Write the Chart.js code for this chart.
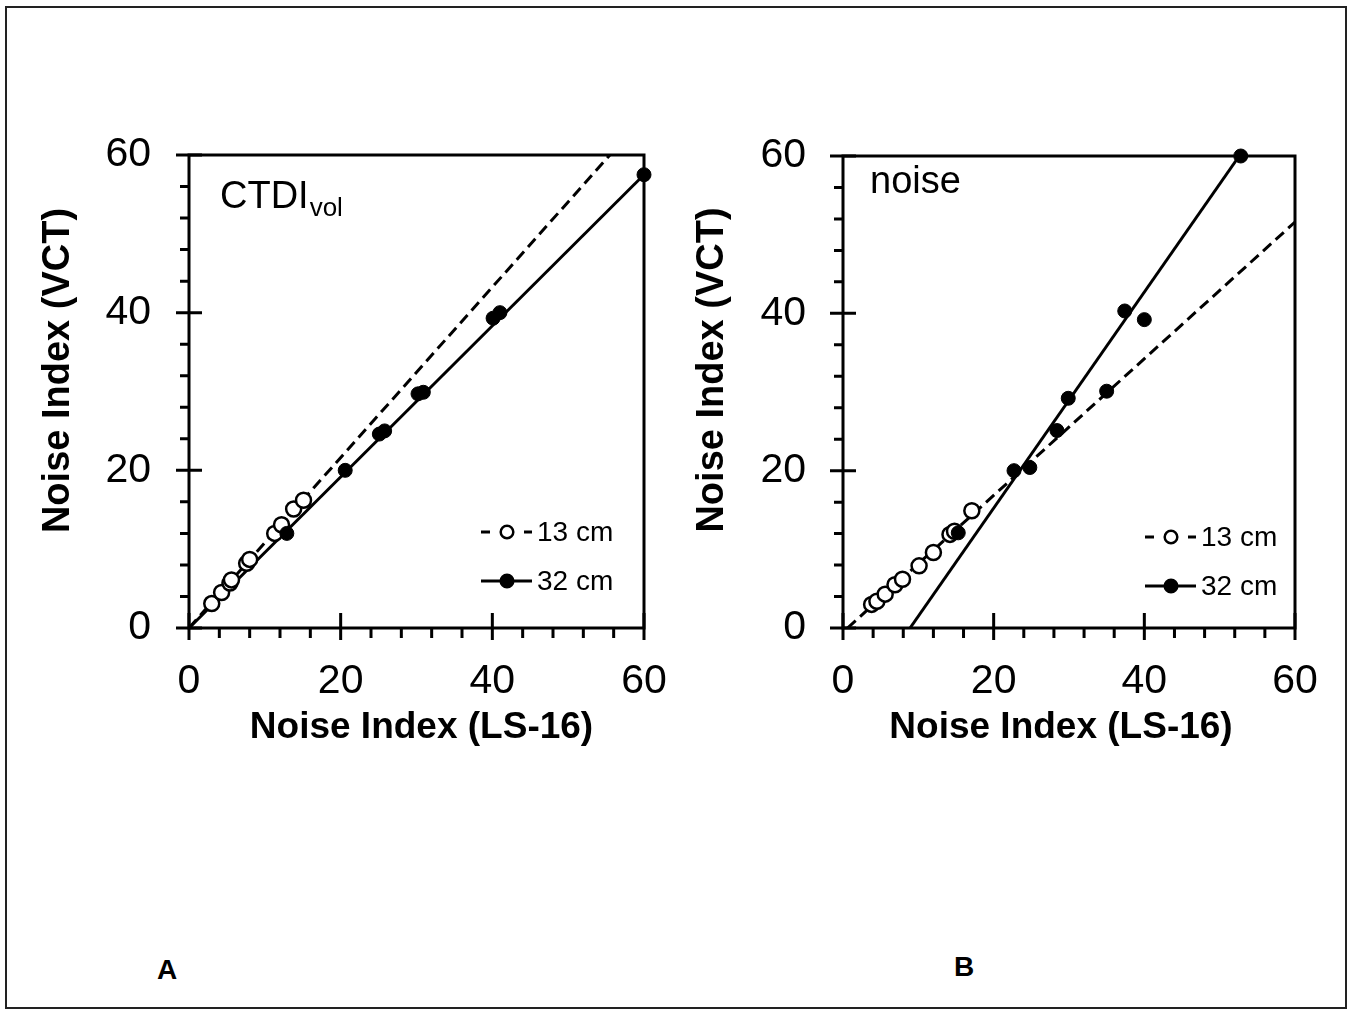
<!DOCTYPE html>
<html>
<head>
<meta charset="utf-8">
<title>Noise Index VCT vs LS-16</title>
<script src="https://cdn.jsdelivr.net/npm/chart.js@4.4.0/dist/chart.umd.min.js"></script>
<style>
  body { margin: 0; background: #fff; }
  #frame { position: absolute; left: 5px; top: 6px; width: 1342px; height: 1003px; border: 2px solid #222; box-sizing: border-box; }
  .wrap { position: absolute; top: 0; height: 800px; }
  #wa { left: 0; width: 696px; }
  #wb { left: 676px; width: 677px; }
  .lab { position: absolute; font: bold 28px "Liberation Sans", Arial, sans-serif; }
</style>
</head>
<body>
<div id="frame"></div>
<div class="wrap" id="wa"><canvas id="chartA"></canvas></div>
<div class="wrap" id="wb"><canvas id="chartB"></canvas></div>
<div class="lab" style="left:157px;top:954px">A</div>
<div class="lab" style="left:954px;top:951px">B</div>
<script>
const FONT = '"Liberation Sans", Arial, sans-serif';

// tick labels (both axes, both panels)
const tickValues = [0, 20, 40, 60];
const seriesNames = ['13 cm', '32 cm'];
const xTitle = 'Noise Index (LS-16)';
const yTitle = 'Noise Index (VCT)';

// panel A - CTDIvol  [LS-16, VCT]
const ctdi13 = [[3.0, 3.1], [4.3, 4.5], [5.4, 5.7], [5.6, 6.1], [7.6, 8.2], [8.0, 8.7],
                [11.3, 12.0], [12.2, 13.1], [13.8, 15.1], [15.1, 16.2]];
const ctdi32 = [[12.9, 12.0], [20.6, 20.0], [25.1, 24.6], [25.8, 25.0], [30.2, 29.7], [30.9, 29.9],
                [40.1, 39.3], [41.0, 40.0], [60.0, 57.5]];
const ctdi13Fit = [[0, 0], [55.5, 60]];
const ctdi32Fit = [[0, 0], [60, 57.5]];

// panel B - noise
const noise13 = [[3.8, 3.0], [4.5, 3.4], [5.6, 4.3], [6.9, 5.5], [7.9, 6.2], [10.1, 7.9],
                 [12.0, 9.6], [14.2, 11.9], [14.8, 12.3], [17.1, 14.9]];
const noise32 = [[15.3, 12.1], [22.7, 20.0], [24.8, 20.4], [28.4, 25.1], [29.9, 29.2],
                 [35.0, 30.1], [37.4, 40.3], [40.0, 39.2], [52.8, 60.0]];
const noise13Fit = [[0.6, 0], [60, 51.6]];
const noise32Fit = [[8.9, 0], [52.6, 60]];

const pts = a => a.map(p => ({ x: p[0], y: p[1] }));

function makeDatasets(small, large, smallFit, largeFit, dash) {
  return [
    { label: seriesNames[0] + ' fit', data: pts(smallFit), showLine: true, pointRadius: 0,
      borderColor: '#000', borderWidth: 3, borderDash: dash, order: 3 },
    { label: seriesNames[1] + ' fit', data: pts(largeFit), showLine: true, pointRadius: 0,
      borderColor: '#000', borderWidth: 3, order: 3 },
    { label: seriesNames[0], data: pts(small), pointRadius: 7.5, pointBorderWidth: 2.5,
      pointBackgroundColor: '#fff', pointBorderColor: '#000', clip: false, order: 2 },
    { label: seriesNames[1], data: pts(large), pointRadius: 7, pointBorderWidth: 1,
      pointBackgroundColor: '#000', pointBorderColor: '#000', clip: false, order: 1 }
  ];
}

// box, major/minor ticks, axis titles, legend and panel caption
const frameAxes = {
  id: 'frameAxes',
  beforeDatasetsDraw(chart, args, o) {
    const { ctx, chartArea: a, scales: { x, y } } = chart;
    const x0 = x.getPixelForValue(x.min), x1 = x.getPixelForValue(x.max);
    const y0 = y.getPixelForValue(y.min), y1 = y.getPixelForValue(y.max);
    ctx.save();
    ctx.strokeStyle = '#000';
    ctx.lineWidth = 3;
    ctx.strokeRect(x0, y1, x1 - x0, y0 - y1);
    ctx.beginPath();
    for (let v = x.min; v <= x.max; v += o.minor) {
      const major = v % 20 === 0;
      const py = y.getPixelForValue(v);
      ctx.moveTo(x0 - (major ? 13 : 9), py);
      ctx.lineTo(major ? x0 + 13 : x0, py);
      const px = x.getPixelForValue(v);
      ctx.moveTo(px, major ? y0 - 15 : y0);
      ctx.lineTo(px, y0 + (major ? 12 : 10));
    }
    ctx.stroke();

    // axis titles
    ctx.fillStyle = '#000';
    ctx.textAlign = 'center';
    ctx.textBaseline = 'middle';
    ctx.font = 'bold 37px ' + FONT;
    ctx.fillText(xTitle, (a.left + a.right) / 2 + o.xTitleShift, a.bottom + 100);
    ctx.save();
    ctx.translate(a.left - 130, (a.top + a.bottom) / 2 + o.yTitleShift);
    ctx.rotate(-Math.PI / 2);
    ctx.font = 'bold 38px ' + FONT;
    ctx.fillText(yTitle, 0, 0);
    ctx.restore();
    ctx.restore();
  },
  afterDraw(chart, args, o) {
    const { ctx, chartArea: a, data: { datasets } } = chart;
    ctx.save();
    // legend
    [2, 3].forEach((di, i) => {
      const ds = datasets[di];
      const lx = a.right + o.legendX, ly = a.bottom + o.legendY[i];
      ctx.strokeStyle = '#000';
      ctx.lineWidth = 3;
      ctx.beginPath();
      if (i === 0) {
        ctx.moveTo(lx, ly); ctx.lineTo(lx + 9, ly);
        ctx.moveTo(lx + 43, ly); ctx.lineTo(lx + 51, ly);
      } else {
        ctx.moveTo(lx, ly); ctx.lineTo(lx + 51, ly);
      }
      ctx.stroke();
      ctx.beginPath();
      ctx.arc(lx + 26, ly, 6.3, 0, Math.PI * 2);
      ctx.fillStyle = ds.pointBackgroundColor;
      ctx.fill();
      ctx.lineWidth = 2.5;
      ctx.stroke();
      ctx.fillStyle = '#000';
      ctx.font = '28px ' + FONT;
      ctx.textBaseline = 'middle';
      ctx.fillText(ds.label, lx + 56, ly + 1);
    });
    // caption
    ctx.fillStyle = '#000';
    ctx.textBaseline = 'alphabetic';
    ctx.font = '38px ' + FONT;
    const cx = a.left + o.captionX, cy = a.top + o.captionY;
    ctx.fillText(o.caption, cx, cy);
    if (o.sub) {
      const w = ctx.measureText(o.caption).width;
      ctx.font = '26px ' + FONT;
      ctx.fillText(o.sub, cx + w + 1, cy + 8);
    }
    ctx.restore();
  }
};

function makeChart(id, datasets, yWidth, pad, labelPad, fo) {
  const tickFont = { family: FONT, size: 41 };
  return new Chart(document.getElementById(id), {
    type: 'scatter',
    data: { datasets },
    options: {
      responsive: true,
      maintainAspectRatio: false,
      animation: false,
      devicePixelRatio: 1,
      layout: { padding: pad },
      plugins: { legend: { display: false }, tooltip: { enabled: false }, frameAxes: fo },
      scales: {
        x: {
          type: 'linear', min: 0, max: 60,
          afterBuildTicks: s => { s.ticks = tickValues.map(v => ({ value: v })); },
          afterFit: s => { s.height = 130; },
          grid: { display: false, drawTicks: false },
          border: { display: false },
          ticks: { color: '#000', font: tickFont, padding: 29, maxRotation: 0 }
        },
        y: {
          type: 'linear', min: 0, max: 60,
          afterBuildTicks: s => { s.ticks = tickValues.map(v => ({ value: v })); },
          afterFit: s => { s.width = yWidth; },
          grid: { display: false, drawTicks: false },
          border: { display: false },
          ticks: { color: '#000', font: tickFont, padding: labelPad }
        }
      }
    },
    plugins: [frameAxes]
  });
}

makeChart('chartA', makeDatasets(ctdi13, ctdi32, ctdi13Fit, ctdi32Fit, [11, 6]),
  189, { top: 155, right: 52, bottom: 42, left: 0 }, 38,
  { minor: 4, legendX: -163, legendY: [-96, -47], caption: 'CTDI', sub: 'vol', captionX: 31, captionY: 53,
    xTitleShift: 5, yTitleShift: -21 });

makeChart('chartB', makeDatasets(noise13, noise32, noise13Fit, noise32Fit, [11, 6]),
  167, { top: 156, right: 58, bottom: 42, left: 0 }, 37,
  { minor: 4, legendX: -150, legendY: [-91, -42], caption: 'noise', sub: '', captionX: 27, captionY: 37,
    xTitleShift: -8, yTitleShift: -22 });
</script>
</body>
</html>
